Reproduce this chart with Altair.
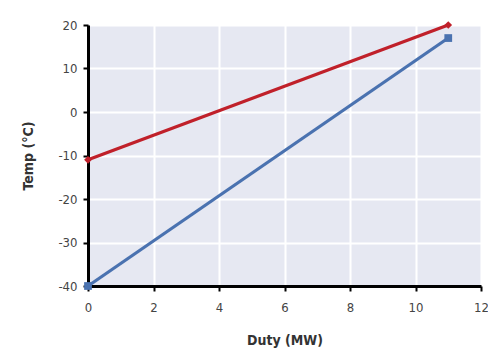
import altair as alt
import pandas as pd

duty = [0, 11, 0, 11]
temp = [-11, 20, -40, 17]
series = ["Hot", "Hot", "Cold", "Cold"]

df = pd.DataFrame({"duty": duty, "temp": temp, "series": series})

font = "'DejaVu Sans Condensed', 'Liberation Sans Narrow', Roboto, sans-serif"

color = alt.Color("series:N", scale=alt.Scale(domain=["Hot", "Cold"], range=["#c0202a", "#4a72b0"]), legend=None)
shape = alt.Shape("series:N", scale=alt.Scale(domain=["Hot", "Cold"], range=["diamond", "square"]), legend=None)

x = alt.X("duty:Q", scale=alt.Scale(domain=[0, 12], nice=False),
          axis=alt.Axis(values=[0, 2, 4, 6, 8, 10, 12], title="Duty (MW)", titlePadding=19,
                        labelPadding=10, labelFlush=False))
y = alt.Y("temp:Q", scale=alt.Scale(domain=[-40, 20], nice=False),
          axis=alt.Axis(values=[-40, -30, -20, -10, 0, 10, 20], title="Temp (°C)", titlePadding=22,
                        labelPadding=6, labelFlush=False,
                        labelExpr="replace(datum.label, '\u2212', '-')"))

lines = alt.Chart(df).mark_line(strokeWidth=3.2).encode(x=x, y=y, color=color, detail="series:N")
pts = alt.Chart(df).mark_point(filled=True, size=60, opacity=1).encode(x=x, y=y, color=color, shape=shape)

chart = (lines + pts).properties(
    width=393, height=261,
    autosize=alt.AutoSizeParams(type="none"),
    padding={"left": 80, "top": 17, "right": 7, "bottom": 65},
).configure_view(fill="#e6e8f2", stroke=None).configure_axis(
    domainColor="black", domainWidth=3, tickColor="black", tickWidth=2, tickSize=5,
    gridColor="white", gridWidth=2, labelFont=font, labelFontSize=13, labelColor="#444",
    titleFont=font, titleFontSize=14, titleColor="#333", titleFontWeight="bold",
)

chart.save("out.html", embed_options={"renderer": "svg", "actions": False})
